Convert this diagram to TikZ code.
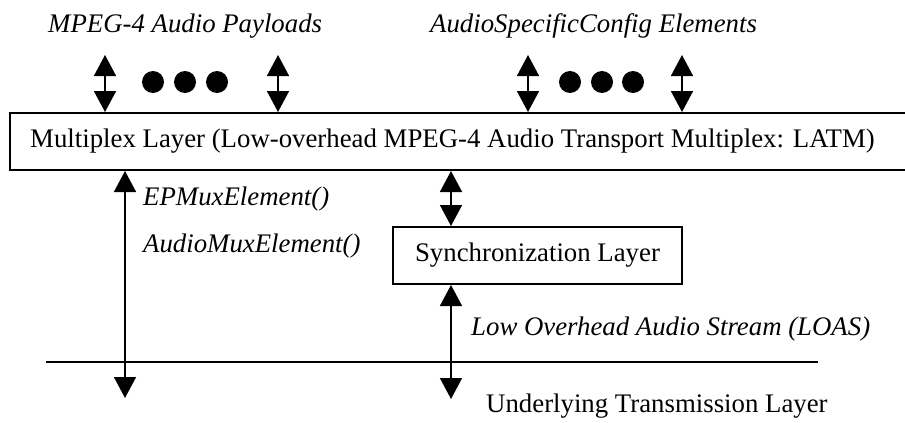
\documentclass[tikz,border=0pt]{standalone}
\usepackage{fontspec}
\setmainfont{Liberation Serif}
\usetikzlibrary{arrows.meta}
\begin{document}
\begin{tikzpicture}[x=1pt,y=-1pt,
  every node/.style={font=\fontsize{26.8}{30}\selectfont, inner sep=0pt},
  layerbox/.style={draw, line width=2pt, rectangle, inner sep=0pt},
  lbl/.style={anchor=base west},
  ilbl/.style={anchor=base west, font=\fontsize{26.8}{30}\selectfont\itshape},
  dbl/.style={line width=1.6pt, {Triangle[width=22pt,length=21pt]}-{Triangle[width=22pt,length=21pt]}},
  dot/.style={fill=black, circle, minimum size=22pt, inner sep=0pt}]
\useasboundingbox (0,0) rectangle (905,423);
\clip (0,0) rectangle (905,423);

% Multiplex layer (runs off the right edge)
\node[layerbox, minimum width=910pt, minimum height=57pt, anchor=north west] (mux) at (9,112) {};
\node[lbl] (muxtext) at (30,147) {Multiplex Layer (Low-overhead MPEG-4 Audio Transport Multiplex: LATM)};

% Synchronization layer
\node[layerbox, minimum width=289pt, minimum height=57pt] (sync) at (537.5,255.5) {Synchronization Layer};

% Labels above the multiplex layer
\node[ilbl] (payloads) at (48,32) {MPEG-4 Audio Payloads};
\node[ilbl] (asc) at (430,32) {AudioSpecificConfig Elements};

% Top connectors
\foreach \n/\x in {a/105, b/278, c/528, d/682} {
  \coordinate (top\n) at (\x,55);
  \draw[dbl] (top\n) -- (top\n |- mux.north);
}

% Ellipsis dots
\foreach \n/\x in {1/153, 2/185, 3/217, 4/570, 5/602, 6/633}
  \node[dot] (dot\n) at (\x,82) {};

% Underlying transmission layer line
\coordinate (lineL) at (46,362);
\coordinate (lineR) at (818,362);
\draw[line width=1.6pt] (lineL) -- (lineR);

% Left connector: multiplex layer to transmission layer
\coordinate (leftend) at (125,398);
\draw[dbl] (leftend |- mux.south) -- (leftend);
\node[ilbl] (epmux) at (143,205) {EPMuxElement()};
\node[ilbl] (audiomux) at (143,252) {AudioMuxElement()};

% Middle connectors via the synchronization layer
\coordinate (midend) at (451,399);
\draw[dbl] (midend |- mux.south) -- (midend |- sync.north);
\draw[dbl] (midend |- sync.south) -- (midend);
\node[ilbl] (loas) at (471,335) {Low Overhead Audio Stream (LOAS)};

\node[lbl] (under) at (486,412) {Underlying Transmission Layer};
\end{tikzpicture}
\end{document}
